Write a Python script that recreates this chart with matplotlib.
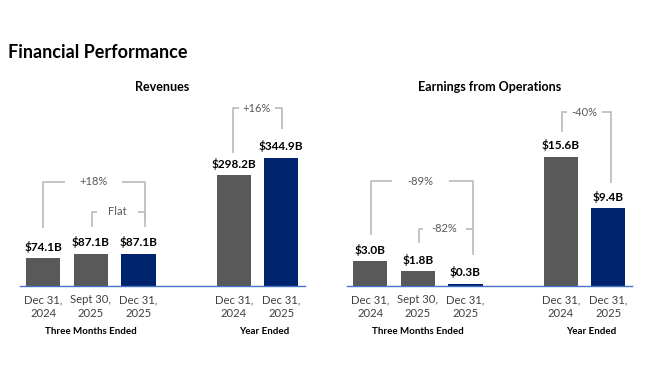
import matplotlib
matplotlib.use("Agg")
import matplotlib.pyplot as plt

plt.rcParams['font.family'] = ['Lato', 'DejaVu Sans']

# data
positions = [0, 1, 2, 4, 5]
period_labels = ["Dec 31,\n2024", "Sept 30,\n2025", "Dec 31,\n2025", "Dec 31,\n2024", "Dec 31,\n2025"]
revenues = [74.1, 87.1, 87.1, 298.2, 344.9]
earnings = [3.0, 1.8, 0.3, 15.6, 9.4]
group_labels = ["Three Months Ended", "Year Ended"]

GRAY = "#595959"
BLUE = "#00246e"
bar_colors = [GRAY, GRAY, BLUE, GRAY, BLUE]

# brackets: (x_left, x_right, y_top, y_left_end, y_right_end, text_x, half_gap, text)
rev_brackets = [
    (0.0, 2.13, 280, 156, 159, 1.05, 0.60, "+18%"),
    (1.03, 2.13, 199, 159, 177, 1.56, 0.44, "Flat"),
    (3.98, 5.01, 478, 357, 422, 4.49, 0.38, "+16%"),
]
earn_brackets = [
    (0.02, 2.15, 12.7, 6.2, 3.75, 1.06, 0.60, "-89%"),
    (1.03, 2.15, 6.9, 5.2, 6.9, 1.56, 0.46, "-82%"),
    (4.02, 5.05, 21.0, 18.6, 12.45, 4.5, 0.37, "-40%"),
]

fig = plt.figure(figsize=(6.5, 3.86), dpi=100)
fig.patch.set_facecolor("white")

fig.text(8/650, 1 - 53/386, "Financial Performance", fontsize=13, fontweight="bold",
         ha="left", va="center", color="black")


def panel(rect, values, ymax, brackets, title, title_x, fmt):
    ax = fig.add_axes(rect)
    ax.bar(positions, values, width=0.72, color=bar_colors)
    ax.set_xlim(-0.49, 5.5)
    ax.set_ylim(0, ymax)
    for s in ["top", "right", "left"]:
        ax.spines[s].set_visible(False)
    ax.spines["bottom"].set_color("#4472c4")
    ax.spines["bottom"].set_linewidth(1.0)
    ax.set_yticks([])
    ax.set_xticks(positions, period_labels)
    ax.tick_params(axis="x", length=0, pad=6, labelsize=8.1, labelcolor="#404040")
    for lbl in ax.get_xticklabels():
        lbl.set_linespacing(1.25)
    for x, v in zip(positions, values):
        ax.annotate(fmt.format(v), (x, v), xytext=(0, 4), textcoords="offset points",
                    ha="center", va="bottom", fontsize=8.5, fontweight="bold", color="black")
    for xl, xr, yt, yl, yr, tx, hg, txt in brackets:
        kw = dict(color="#bfbfbf", lw=1.3, clip_on=False, solid_capstyle="butt")
        ax.plot([xl, xl, tx - hg], [yl, yt, yt], **kw)
        ax.plot([tx + hg, xr, xr], [yt, yt, yr], **kw)
        ax.text(tx, yt, txt, ha="center", va="center", fontsize=8, color="#595959")
    tr = ax.get_xaxis_transform()
    ax.text(1.0, -0.242, group_labels[0], transform=tr, ha="center", va="center",
            fontsize=7, fontweight="bold", color="black")
    ax.text(4.65, -0.242, group_labels[1], transform=tr, ha="center", va="center",
            fontsize=7, fontweight="bold", color="black")
    fig.text(title_x, 1 - 87/386, title, ha="center", va="center", fontsize=9,
             fontweight="bold", color="black")
    return ax


bottom = 1 - 286/386
height = 186/386
panel([20/650, bottom, 285/650, height], revenues, 500, rev_brackets,
      "Revenues", 162/650, "${:.1f}B")
panel([347/650, bottom, 285/650, height], earnings, 22.5, earn_brackets,
      "Earnings from Operations", 490/650, "${:.1f}B")

fig.savefig("out.png", dpi=100, facecolor="white")
